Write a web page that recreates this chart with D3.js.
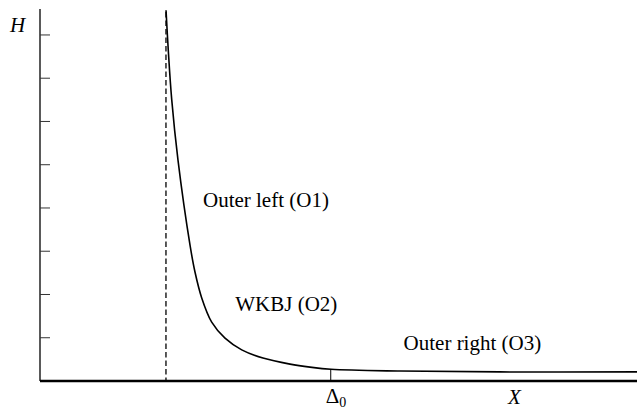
<!DOCTYPE html>
<html>
<head>
<meta charset="utf-8">
<script src="https://cdn.jsdelivr.net/npm/d3@7"></script>
<style>
  html, body { margin: 0; padding: 0; background: #fff; }
  svg { display: block; }
</style>
</head>
<body>
<svg id="chart"></svg>
<script>
// H(X) sketch: outer left / WKBJ / outer right regions

const width = 637;
const height = 410;
const serif = "'Liberation Serif', 'Times New Roman', Times, 'DejaVu Serif', serif";

// data
const hTicks = [1, 2, 3, 4, 5, 6, 7, 8];
const curveX = [21.11, 21.49, 22.06, 23.12, 25.13, 25.96, 27.09, 28.76, 30.99, 33.79, 37.35, 41.88, 45.23, 48.74, 60.3, 77.05, 100];
const curveH = [8.57, 7.64, 6.51, 5.10, 3.14, 2.52, 1.92, 1.36, 0.99, 0.72, 0.53, 0.39, 0.32, 0.27, 0.23, 0.21, 0.21];
const asymptoteX = 21.1;
const delta0 = 48.7;
const regionLabels = [
  { text: "Outer left (O1)", x: 27.3, h: 4.03 },
  { text: "WKBJ (O2)", x: 32.7, h: 1.62 },
  { text: "Outer right (O3)", x: 60.9, h: 0.72 }
];

const svg = d3.select("#chart")
  .attr("width", width)
  .attr("height", height);

const x = d3.scaleLinear().domain([0, 100]).range([40, 637]);
const y = d3.scaleLinear().domain([0, 8.6]).range([381, 9]);

// y axis (bare line with inward ticks)
svg.append("line")
  .attr("x1", x(0)).attr("x2", x(0))
  .attr("y1", y(8.6)).attr("y2", y(0))
  .attr("stroke", "#000").attr("stroke-width", 1.3);

svg.append("g")
  .selectAll("line")
  .data(hTicks)
  .enter()
  .append("line")
  .attr("x1", x(0)).attr("x2", x(0) + 10)
  .attr("y1", d => y(d)).attr("y2", d => y(d))
  .attr("stroke", "#333").attr("stroke-width", 1);

// asymptote
svg.append("line")
  .attr("x1", x(asymptoteX)).attr("x2", x(asymptoteX))
  .attr("y1", 12).attr("y2", y(0))
  .attr("stroke", "#000").attr("stroke-width", 1.3)
  .attr("stroke-dasharray", "5.5,3");

// Δ0 tick
svg.append("line")
  .attr("x1", x(delta0)).attr("x2", x(delta0))
  .attr("y1", y(0) - 11).attr("y2", y(0))
  .attr("stroke", "#000").attr("stroke-width", 1);

// curve
const pts = curveX.map((d, i) => [d, curveH[i]]);
const line = d3.line()
  .x(d => x(d[0]))
  .y(d => y(d[1]))
  .curve(d3.curveCatmullRom.alpha(0.5));

svg.append("path")
  .datum(pts)
  .attr("d", line)
  .attr("fill", "none")
  .attr("stroke", "#000")
  .attr("stroke-width", 1.6);

// x axis (thick)
svg.append("line")
  .attr("x1", x(0)).attr("x2", x(100))
  .attr("y1", y(0)).attr("y2", y(0))
  .attr("stroke", "#000").attr("stroke-width", 2.6);

// labels
svg.append("g")
  .selectAll("text")
  .data(regionLabels)
  .enter()
  .append("text")
  .attr("x", d => x(d.x))
  .attr("y", d => y(d.h))
  .attr("font-family", serif)
  .attr("font-size", 21)
  .text(d => d.text);

svg.append("text")
  .attr("x", 10).attr("y", 32)
  .attr("font-family", serif)
  .attr("font-size", 21)
  .attr("font-style", "italic")
  .text("H");

const dl = svg.append("text")
  .attr("x", x(delta0) - 5).attr("y", 403)
  .attr("font-family", serif)
  .attr("font-size", 21);
dl.append("tspan").text("Δ");
dl.append("tspan").attr("font-size", 14).attr("dy", 4).text("0");

svg.append("text")
  .attr("x", 508).attr("y", 404)
  .attr("font-family", serif)
  .attr("font-size", 21)
  .attr("font-style", "italic")
  .text("X");
</script>
</body>
</html>
